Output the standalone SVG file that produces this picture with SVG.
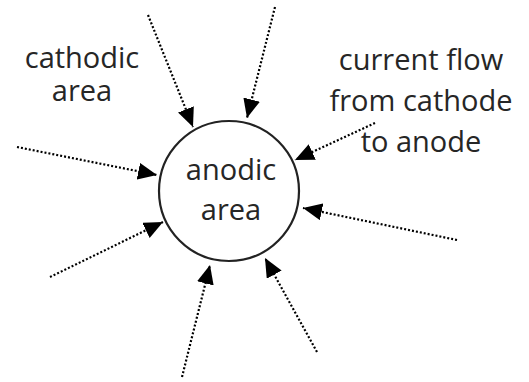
<svg xmlns="http://www.w3.org/2000/svg" width="529" height="382" viewBox="0 0 529 382">
<style>
.t{font-family:"Open Sans","Liberation Sans",sans-serif;font-size:29px;fill:#262626;text-anchor:middle}
.c{fill:none;stroke:#000;stroke-width:2.2;stroke-dasharray:2 2}
</style>
<defs>
<marker id="ah" markerUnits="userSpaceOnUse" markerWidth="20" markerHeight="18" refX="19" refY="8.5" orient="auto">
<path d="M0,0 L19,8.5 L0,17 Z" fill="#000"/>
</marker>
</defs>
<rect width="529" height="382" fill="#fff"/>
<g id="anodic">
<circle cx="229" cy="191" r="70" fill="none" stroke="#222" stroke-width="2.2"/>
<text class="t" x="231" y="180">anodic</text>
<text class="t" x="231" y="220">area</text>
</g>
<g id="cathodic">
<text class="t" x="82" y="68">cathodic</text>
<text class="t" x="82" y="101">area</text>
</g>
<g id="current">
<text class="t" x="421" y="70">current flow</text>
<text class="t" x="421" y="111">from cathode</text>
<text class="t" x="421" y="152">to anode</text>
</g>
<g id="connectors">
<line class="c" x1="148" y1="15" x2="193" y2="127" marker-end="url(#ah)"/>
<line class="c" x1="275" y1="7" x2="247" y2="118" marker-end="url(#ah)"/>
<line class="c" x1="17" y1="147" x2="157" y2="175" marker-end="url(#ah)"/>
<line class="c" x1="50" y1="277" x2="163" y2="222" marker-end="url(#ah)"/>
<line class="c" x1="375" y1="123" x2="295" y2="160" marker-end="url(#ah)"/>
<line class="c" x1="457" y1="240" x2="303" y2="208" marker-end="url(#ah)"/>
<line class="c" x1="182" y1="377" x2="210" y2="265" marker-end="url(#ah)"/>
<line class="c" x1="317" y1="352" x2="265" y2="258" marker-end="url(#ah)"/>
</g>
</svg>
